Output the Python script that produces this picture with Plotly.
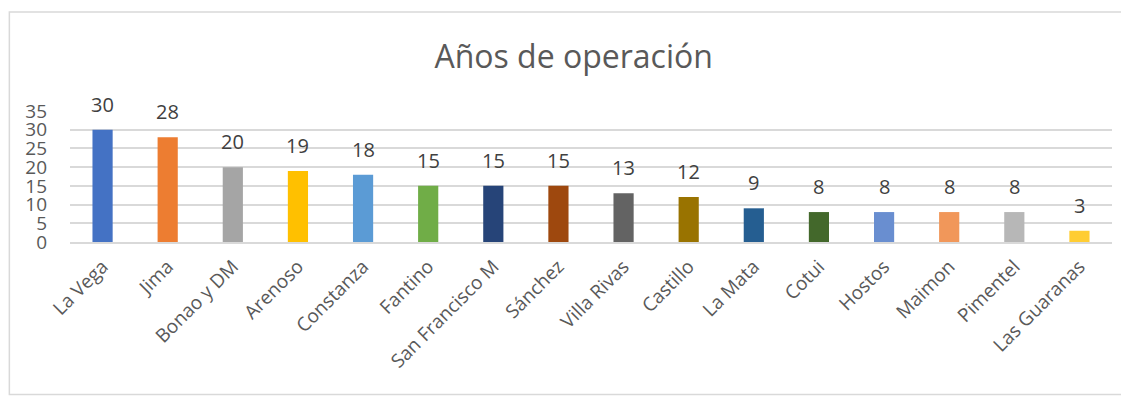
import plotly.graph_objects as go

categories = ["La Vega", "Jima", "Bonao y DM", "Arenoso", "Constanza", "Fantino",
              "San Francisco M", "Sánchez", "Villa Rivas", "Castillo", "La Mata",
              "Cotui", "Hostos", "Maimon", "Pimentel", "Las Guaranas"]
years = [30, 28, 20, 19, 18, 15, 15, 15, 13, 12, 9, 8, 8, 8, 8, 3]
colors = ["#4472C4", "#ED7D31", "#A5A5A5", "#FFC000", "#5B9BD5", "#70AD47",
          "#264478", "#9E480E", "#636363", "#997300", "#255E91", "#43682B",
          "#698ED0", "#F1975A", "#B7B7B7", "#FFCD33"]
y_ticks = [0, 5, 10, 15, 20, 25, 30, 35]

FONT = "Open Sans"

fig = go.Figure(go.Bar(x=categories, y=years, marker_color=colors,
                       marker_line_width=0, showlegend=False))

for c, v in zip(categories, years):
    fig.add_annotation(x=c, y=v, text=str(v), showarrow=False, yanchor="bottom",
                       yshift=10, font=dict(family=FONT, size=20, color="#404040"))

fig.add_shape(type="rect", xref="paper", yref="paper", x0=-0.0582, x1=1.06,
              y0=-1.165, y1=1.756, line=dict(color="#D9D9D9", width=1.5),
              layer="below")

fig.update_layout(
    width=1129, height=402,
    margin=dict(l=62, r=25, t=103, b=168),
    paper_bgcolor="white", plot_bgcolor="white",
    bargap=0.69,
    title=dict(text="Años de operación", x=0.501, xanchor="center", y=0.878, yanchor="middle",
               font=dict(family=FONT, size=32, color="#595959")),
    xaxis=dict(tickangle=-45, tickfont=dict(family=FONT, size=19, color="#595959"),
               showline=True, linecolor="#D9D9D9", linewidth=2, ticks="",
               showgrid=False, automargin=False, ticklabelstandoff=4),
    yaxis=dict(range=[0, 35], tickvals=y_ticks, showgrid=True, gridcolor="#D9D9D9",
               gridwidth=1.5, zeroline=False, ticks="", ticklabelstandoff=22,
               automargin=False,
               tickfont=dict(family=FONT, size=19, color="#595959")),
    font=dict(family=FONT),
)

fig.write_html("out.html")
